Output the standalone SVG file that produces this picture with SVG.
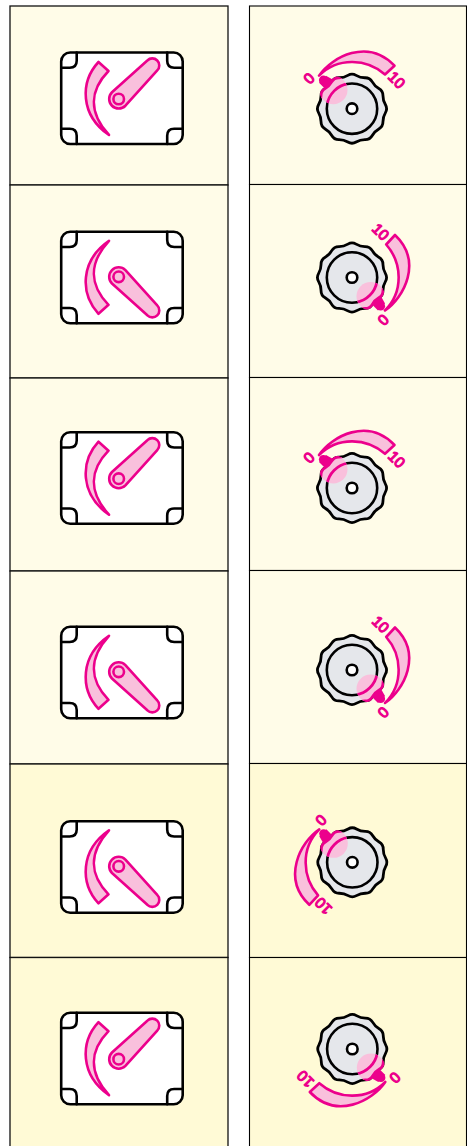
<svg xmlns="http://www.w3.org/2000/svg" width="467" height="1146" viewBox="0 0 467 1146">
<style>
.c1{fill:#fffce8;stroke:#000;stroke-width:1.1}
.c2{fill:#fffad6;stroke:#000;stroke-width:1.1}
.l{stroke:#111;stroke-width:1.3}
.k{fill:none;stroke:#000;stroke-width:2.6;stroke-linecap:round;stroke-linejoin:round}
.p{fill:#f9c0dc;stroke:#ec008c;stroke-width:2.6;stroke-linejoin:round}
.t{fill:#ec008c;stroke:#ec008c;stroke-width:1.2;stroke-linejoin:round;font:15px "Liberation Sans",sans-serif;text-anchor:middle}
.pk{fill:none;stroke:#ec008c;stroke-width:2.8}
</style>
<defs>
<path id="knobp" d="M33.36-4.14Q35.8 0 33.36 4.14Q30.91 8.28 30.96 13.09Q31 17.9 26.82 20.27Q22.63 22.63 20.27 26.82Q17.9 31 13.09 30.96Q8.28 30.91 4.14 33.36Q0 35.8-4.14 33.36Q-8.28 30.91-13.09 30.96Q-17.9 31-20.27 26.82Q-22.63 22.63-26.82 20.27Q-31 17.9-30.96 13.09Q-30.91 8.28-33.36 4.14Q-35.8 0-33.36-4.14Q-30.91-8.28-30.96-13.09Q-31-17.9-26.82-20.27Q-22.63-22.63-20.27-26.82Q-17.9-31-13.09-30.96Q-8.28-30.91-4.14-33.36Q0-35.8 4.14-33.36Q8.28-30.91 13.09-30.96Q17.9-31 20.27-26.82Q22.63-22.63 26.82-20.27Q31-17.9 30.96-13.09Q30.91-8.28 33.36-4.14Z"/>
<clipPath id="kc"><use href="#knobp"/></clipPath>
<clipPath id="pc"><circle cx="-18.7" cy="-18.7" r="14.2"/></clipPath>
<g id="knob">
<use href="#knobp" fill="#e5e7eb" stroke="#000" stroke-width="2.8"/>
<circle r="25.2" fill="none" stroke="#000" stroke-width="2.6"/>
<circle r="5.3" fill="#fff" stroke="#000" stroke-width="2.6"/>
<g clip-path="url(#kc)"><circle cx="-18.7" cy="-18.7" r="14.2" fill="#f9c0dc"/></g>
<g clip-path="url(#pc)"><use href="#knobp" class="pk"/><circle r="25.2" class="pk"/></g>
<path d="M-26-33L-18-28.500L-27-20L-33-26Z" fill="#ec008c"/>
<circle cx="-28.7" cy="-28.7" r="4.4" fill="#ec008c"/>
<path class="p" d="M-33-33C-20-52 16-71 42.500-43L33-34.200C15-50-14-52-33-33Z"/>
</g>
<g id="sw">
<rect x="-60.500" y="-45.800" width="121.500" height="91.500" rx="9" fill="#fff" stroke="#000" stroke-width="2.600"/>
<path class="k" d="M-60.500-30.500H-52Q-45-30.500-45-37.500V-45.800M61-30.500H52.500Q45.500-30.500 45.500-37.500V-45.800M-60.500 30.500H-52Q-45 30.500-45 37.500V45.700M61 30.500H52.500Q45.500 30.500 45.500 37.500V45.700"/>
</g>
<g id="hd">
<path class="p" d="M-23.200-36.300C-41.700-16.300-41.700 16.700-12.700 36.700C-33.700 13.700-31.700-8.300-13.200-27.300Z"/>
<path class="p" transform="translate(-3,.7) rotate(-45)" d="M0-9.500L47.500-7A7 7 0 0 1 47.500 7L0 9.500A9.500 9.500 0 0 1 0-9.500Z"/>
<circle cx="-3" cy=".7" r="5.300" class="p"/>
</g>
</defs>
<g id="cells">
<rect class="c1 l" x="10" y="6" width="218" height="179"/><rect class="c1" x="249.500" y="6" width="217" height="178.500"/>
<rect class="c1 l" x="10" y="185" width="218" height="193"/><rect class="c1" x="249.500" y="184.500" width="217" height="193"/>
<rect class="c1 l" x="10" y="378" width="218" height="193"/><rect class="c1" x="249.500" y="377.500" width="217" height="193"/>
<rect class="c1 l" x="10" y="571" width="218" height="193"/><rect class="c1" x="249.500" y="570.500" width="217" height="193"/>
<rect class="c2 l" x="10" y="764" width="218" height="193.500"/><rect class="c2" x="249.500" y="763.500" width="217" height="194"/>
<rect class="c2 l" x="10" y="957.500" width="218" height="200"/><rect class="c2" x="249.500" y="957.500" width="217" height="200"/>
</g>
<g id="switch1" transform="translate(121.700,98.300)"><use href="#sw"/><use href="#hd"/></g>
<g id="switch2" transform="translate(121.700,277.500)"><use href="#sw"/><use href="#hd" transform="scale(1,-1)"/></g>
<g id="switch3" transform="translate(121.700,478)"><use href="#sw"/><use href="#hd"/></g>
<g id="switch4" transform="translate(121.700,672.500)"><use href="#sw"/><use href="#hd" transform="scale(1,-1)"/></g>
<g id="switch5" transform="translate(121.700,867)"><use href="#sw"/><use href="#hd" transform="scale(1,-1)"/></g>
<g id="switch6" transform="translate(121.700,1058.500)"><use href="#sw"/><use href="#hd"/></g>
<g id="knob1" transform="translate(352,108.700)"><use href="#knob"/><text class="t" transform="translate(-43,-30.400) rotate(-45)" y="5.300">0</text><text class="t" transform="translate(44.700,-28.700) rotate(45)" y="5.300">10</text></g>
<g id="knob2" transform="translate(352,277.500)"><use href="#knob" transform="matrix(0,-1,-1,0,0,0)"/><text class="t" transform="translate(31.300,42.300) rotate(-45)" y="5.300">0</text><text class="t" transform="translate(28.700,-45.700) rotate(45)" y="5.300">10</text></g>
<g id="knob3" transform="translate(352,488)"><use href="#knob"/><text class="t" transform="translate(-43,-30.400) rotate(-45)" y="5.300">0</text><text class="t" transform="translate(44.700,-28.700) rotate(45)" y="5.300">10</text></g>
<g id="knob4" transform="translate(352,670)"><use href="#knob" transform="matrix(0,-1,-1,0,0,0)"/><text class="t" transform="translate(31.300,42.300) rotate(-45)" y="5.300">0</text><text class="t" transform="translate(28.700,-45.700) rotate(45)" y="5.300">10</text></g>
<g id="knob5" transform="translate(352.300,862.300)"><use href="#knob" transform="matrix(0,1,1,0,0,0)"/><text class="t" transform="translate(-31.300,-42.300) rotate(-45)" y="5.300">0</text><text class="t" transform="translate(-29,43.700) rotate(225)" y="5.300">10</text></g>
<g id="knob6" transform="translate(352.300,1049)"><use href="#knob" transform="rotate(180)"/><text class="t" transform="translate(42.700,28.700) rotate(135)" y="5.300">0</text><text class="t" transform="translate(-47,30) rotate(225)" y="5.300">10</text></g>
</svg>
